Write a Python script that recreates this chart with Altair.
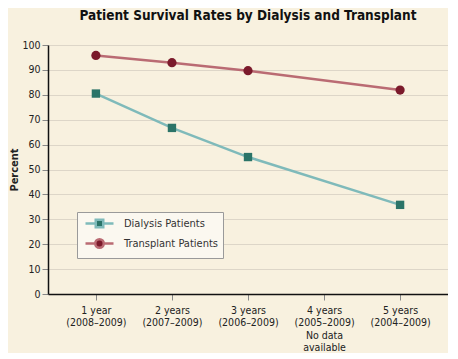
import altair as alt
import pandas as pd

categories = ["1 year|(2008–2009)", "2 years|(2007–2009)", "3 years|(2006–2009)",
              "4 years|(2005–2009)|No data|available", "5 years|(2004–2009)"]
series_names = ["Dialysis Patients", "Transplant Patients"]
dialysis = [80.5, 66.7, 55.0, None, 35.8]
transplant = [95.8, 92.9, 89.7, None, 81.9]

line_colors = ["#7fbaba", "#ba6b73"]
marker_colors = ["#2b7468", "#7b1a2b"]

rows = []
for name, vals in zip(series_names, [dialysis, transplant]):
    for c, v in zip(categories, vals):
        if v is not None:
            rows.append({"category": c, "series": name, "value": v})
df = pd.DataFrame(rows)

FONT = "DejaVu Sans Condensed"

x = alt.X("category:N", scale=alt.Scale(type="point", domain=categories, padding=0.63),
          axis=alt.Axis(title=None, labelExpr="split(datum.label, '|')", labelAngle=0,
                        labelFont=FONT, labelFontSize=10.5, labelColor="#222",
                        labelLineHeight=12.5, labelPadding=5, tickColor="#888", tickSize=6,
                        domainColor="#111", domainWidth=1.5, grid=False))
y = alt.Y("value:Q", scale=alt.Scale(domain=[0, 100]),
          axis=alt.Axis(title="Percent", values=list(range(0, 101, 10)), titleFont=FONT,
                        titleFontSize=11, titleFontWeight="bold", titleColor="#222",
                        labelFont=FONT, labelFontSize=10.5, labelColor="#222", labelPadding=2,
                        tickColor="#888", tickSize=6, domainColor="#111", domainWidth=1.5,
                        gridColor="#ddd6c8", gridWidth=1.2, titlePadding=2))

dpath = "M-2.8,0L-0.6,0M0.6,0L2.8,0M-0.75,-0.75L0.75,-0.75L0.75,0.75L-0.75,0.75Z"
tpath = "M-2.8,0L-0.85,0M0.85,0L2.8,0M0.85,0A0.85,0.85 0 1,1 -0.85,0A0.85,0.85 0 1,1 0.85,0Z"

leg = alt.Legend(title=None, orient="none", legendX=29, legendY=167,
                 fillColor="#fbf8f0", strokeColor="#9a9a9a", padding=5,
                 labelFont=FONT, labelFontSize=11, labelColor="#333",
                 symbolSize=100, labelOffset=18, rowPadding=1, symbolOffset=11,
                 symbolOpacity=1, symbolStrokeWidth=2.5)

stroke_enc = alt.Stroke("series:N", scale=alt.Scale(domain=series_names, range=line_colors), legend=leg)
fill_enc = alt.Fill("series:N", scale=alt.Scale(domain=series_names, range=marker_colors), legend=leg)
shape_enc = alt.Shape("series:N", scale=alt.Scale(domain=series_names, range=[dpath, tpath]), legend=leg)

lines = alt.Chart(df).mark_line(strokeWidth=2.5).encode(x=x, y=y, stroke=stroke_enc)

points_d = alt.Chart(df).transform_filter(alt.datum.series == series_names[0]).mark_square(
    opacity=1, size=70).encode(x=x, y=y, fill=fill_enc)
points_t = alt.Chart(df).transform_filter(alt.datum.series == series_names[1]).mark_circle(
    opacity=1, size=85).encode(x=x, y=y, fill=fill_enc)

legend_layer = alt.Chart(df).mark_point(opacity=0, strokeWidth=2.5).encode(
    x=x, y=y, fill=fill_enc, stroke=stroke_enc, shape=shape_enc)

chart = (lines + points_d + points_t + legend_layer).properties(
    width=400, height=249,
    background="#f8f1df",
    padding={"left": 0, "top": 0, "right": 0, "bottom": 0},
    title=alt.TitleParams("Patient Survival Rates by Dialysis and Transplant", font=FONT,
                          fontSize=13.5, fontWeight="bold", color="#111", offset=18),
).configure_view(stroke=None)

chart.save("out.html", embed_options={"renderer": "svg", "actions": False})
